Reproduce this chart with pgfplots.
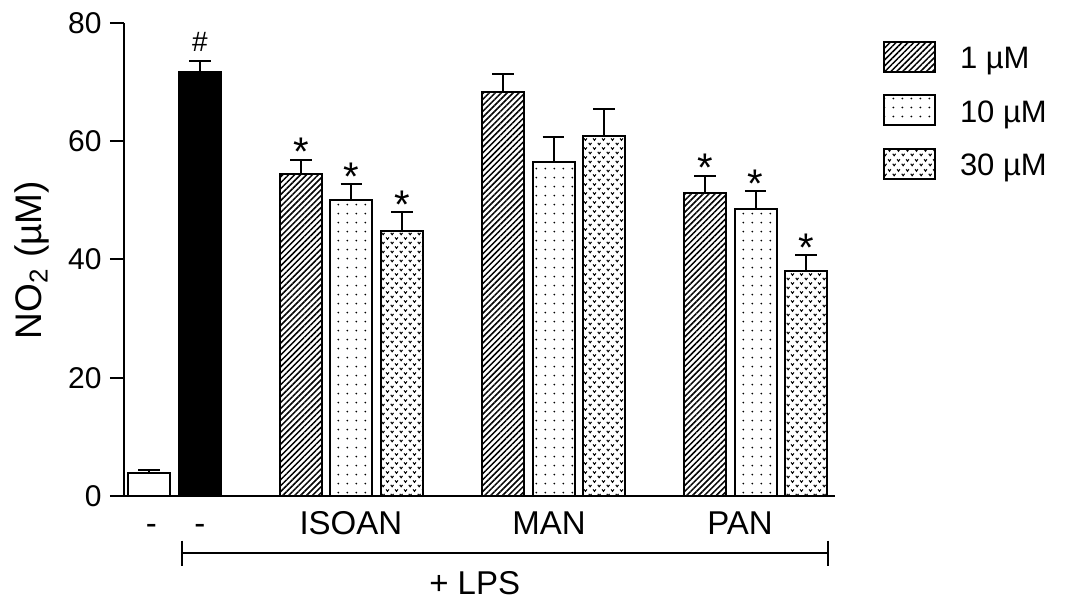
\documentclass[border=0pt]{standalone}
\usepackage{fontspec}
\setmainfont{Liberation Sans}
\usepackage{pgfplots}
\pgfplotsset{compat=1.18}
\usetikzlibrary{patterns,patterns.meta}

\tikzdeclarepattern{
  name=gdots, type=uncolored,
  bounding box={(0,0) and (4.4pt,4.7pt)},
  tile size={(4.4pt,4.7pt)},
  code={\fill (2.2pt,2.35pt) circle (0.5pt);}
}
\tikzdeclarepattern{
  name=vdots, type=uncolored,
  bounding box={(0,0) and (4.65pt,4.7pt)},
  tile size={(4.65pt,4.7pt)},
  code={\draw[line width=0.55pt] (0.41pt,1.67pt) -- (1.16pt,0.67pt) -- (1.91pt,1.67pt);
        \draw[line width=0.55pt] (2.74pt,4.02pt) -- (3.49pt,3.02pt) -- (4.24pt,4.02pt);}
}

\pgfplotsset{
  mylegend/.style={legend image code/.code={%
      \draw[##1, line width=1pt] (0pt,-6.3pt) rectangle (25.5pt,8.7pt);}},
  barbase/.style={ybar, bar shift=0pt, bar width=21pt, draw=black, line width=1pt,
      /pgfplots/error bars/y dir=plus, /pgfplots/error bars/y explicit,
      /pgfplots/error bars/error bar style={line width=1pt, black},
      /pgfplots/error bars/error mark options={rotate=90, line width=1pt, mark size=5.4pt, black}},
}

\begin{document}
\begin{tikzpicture}
\begin{axis}[
  scale only axis, width=355.5pt, height=236.65pt,
  xmin=-0.5, xmax=13.57, ymin=0, ymax=80,
  axis x line*=bottom, axis y line*=left,
  axis line style={-, line width=1pt, black},
  ytick={0,20,40,60,80},
  tick align=outside, major tick length=7pt,
  tick style={line width=1pt, black},
  xtick={0.04,1,3.99,7.91,11.69},
  xticklabels={-,-,ISOAN,MAN,PAN},
  xtick style={draw=none},
  /pgf/number format/assume math mode=true,
  yticklabel style={font=\fontsize{15}{18}\selectfont, inner sep=4pt},
  xticklabel style={font=\fontsize{16.5}{19}\selectfont, text height=12pt, text depth=0pt, inner sep=0pt},
  ylabel={NO\textsubscript{2} (µM)},
  every axis y label/.style={at={(axis description cs:-0.1294,0.4986)}, rotate=90, anchor=center, font=\fontsize{18.5}{22}\selectfont},
  clip=false,
  legend style={at={(1.0675,0.9613)}, anchor=north west, draw=none, fill=none,
     inner sep=0pt, outer sep=0pt, row sep=9.35pt,
     font=\fontsize{15.5}{18}\selectfont, cells={anchor=west},
     /tikz/every odd column/.append style={column sep=10pt}},
]
% control and LPS
\addplot[barbase, fill=white, forget plot] coordinates {(0,3.83) +- (0,0.55)};
\addplot[barbase, fill=black, forget plot] coordinates {(1,71.6) +- (0,2.0)};
% 1 uM
\addplot[barbase, pattern={Lines[angle=45,distance=2.1pt,line width=0.75pt]}, pattern color=black, mylegend]
  coordinates {(3,54.4) +- (0,2.4) (7,68.3) +- (0,3.1) (11,51.3) +- (0,2.8)};
\addlegendentry{1 µM}
% 10 uM
\addplot[barbase, pattern=gdots, pattern color=black, mylegend]
  coordinates {(4,50.0) +- (0,2.7) (8,56.4) +- (0,4.2) (12,48.5) +- (0,3.0)};
\addlegendentry{10 µM}
% 30 uM
\addplot[barbase, pattern=vdots, pattern color=black, mylegend]
  coordinates {(5,44.8) +- (0,3.2) (9,60.8) +- (0,4.6) (13,38.0) +- (0,2.7)};
\addlegendentry{30 µM}
% significance marks
\addplot[draw=none, mark=none, forget plot, nodes near coords={*},
  every node near coord/.append style={anchor=base, yshift=-3pt, inner sep=0pt, font=\fontsize{20}{22}\selectfont}]
  coordinates {(3,56.8) (4,52.7) (5,48.0) (11,54.1) (12,51.5) (13,40.7)};
\addplot[draw=none, mark=none, forget plot, nodes near coords={\#},
  every node near coord/.append style={anchor=base, yshift=4.5pt, inner sep=0pt, font=\fontsize{14}{16}\selectfont}]
  coordinates {(1,73.6)};
% + LPS bracket
\draw[line width=1pt] (axis cs:0.657,-9.68) -- (axis cs:13.43,-9.68);
\draw[line width=1pt] (axis cs:0.657,-7.55) -- (axis cs:0.657,-11.78);
\draw[line width=1pt] (axis cs:13.43,-7.55) -- (axis cs:13.43,-11.78);
\node[font=\fontsize{16.5}{19}\selectfont] at (axis cs:6.44,-14.7) {+ LPS};
\end{axis}
\pgfresetboundingbox
\path (-62pt,-52pt) rectangle (473.5pt,248pt);
\end{tikzpicture}
\end{document}
